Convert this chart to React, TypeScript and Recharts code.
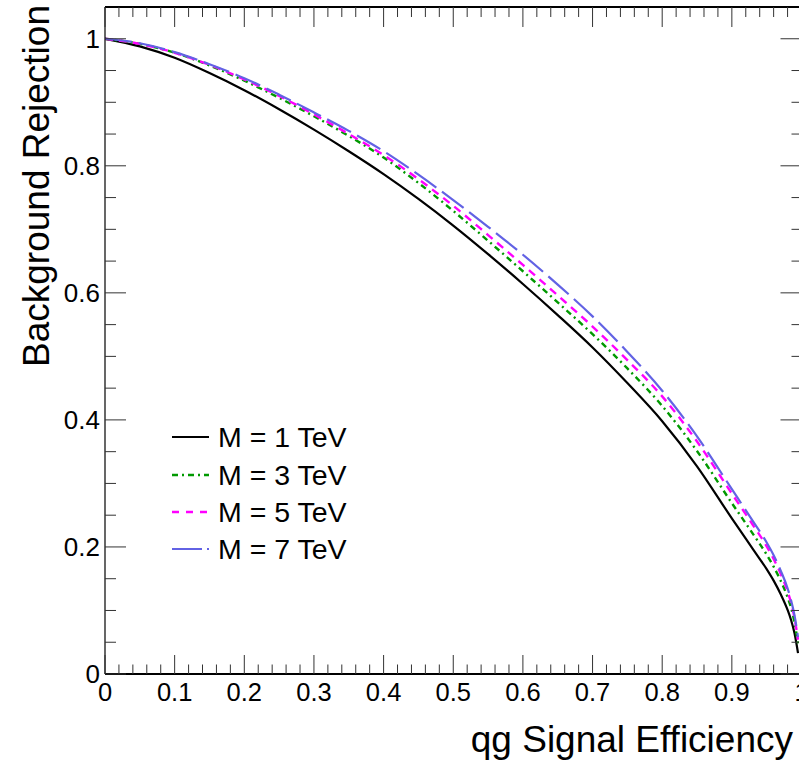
import React from "react";
import { LineChart, Line, XAxis, YAxis, Customized } from "recharts";

const effX = [0, 0.05, 0.1, 0.15, 0.2, 0.25, 0.3, 0.35, 0.4, 0.45, 0.5, 0.55, 0.6, 0.65, 0.7, 0.75, 0.8, 0.85, 0.9, 0.93, 0.95, 0.96, 0.97, 0.98, 0.985, 0.99, 0.995];
const rejM1 = [1.0, 0.988, 0.970, 0.946, 0.919, 0.889, 0.857, 0.823, 0.787, 0.748, 0.706, 0.661, 0.614, 0.565, 0.514, 0.458, 0.398, 0.327, 0.245, 0.197, 0.165, 0.147, 0.126, 0.101, 0.085, 0.064, 0.033];
const rejM3 = [1.0, 0.992, 0.978, 0.958, 0.934, 0.907, 0.878, 0.847, 0.813, 0.773, 0.729, 0.682, 0.634, 0.585, 0.535, 0.481, 0.422, 0.351, 0.269, 0.221, 0.188, 0.169, 0.147, 0.121, 0.104, 0.081, 0.048];
const rejM5 = [1.0, 0.992, 0.978, 0.959, 0.936, 0.910, 0.881, 0.850, 0.817, 0.779, 0.737, 0.691, 0.644, 0.596, 0.547, 0.494, 0.437, 0.366, 0.284, 0.235, 0.201, 0.181, 0.158, 0.130, 0.112, 0.088, 0.054];
const rejM7 = [1.0, 0.993, 0.979, 0.960, 0.938, 0.912, 0.884, 0.855, 0.823, 0.786, 0.746, 0.704, 0.660, 0.613, 0.563, 0.507, 0.446, 0.374, 0.291, 0.241, 0.207, 0.187, 0.163, 0.135, 0.116, 0.092, 0.058];

const seriesNames = ["M = 1 TeV", "M = 3 TeV", "M = 5 TeV", "M = 7 TeV"];
const seriesKeys = ["m1", "m3", "m5", "m7"];
const seriesColors = ["#000000", "#009900", "#ff00ff", "#6262e4"];
const seriesDash = ["", "6 4 2 4", "8 6", "27 7"];
const legendDash = ["", "6 4 2 4", "7 7", "30 5"];
const seriesWidth = [2.2, 2.4, 2.4, 2.2];

const xMajorTicks = [0, 0.1, 0.2, 0.3, 0.4, 0.5, 0.6, 0.7, 0.8, 0.9, 1];
const yMajorTicks = [0, 0.2, 0.4, 0.6, 0.8, 1];
const xTickLabels = ["0", "0.1", "0.2", "0.3", "0.4", "0.5", "0.6", "0.7", "0.8", "0.9", "1"];
const yTickLabels = ["0", "0.2", "0.4", "0.6", "0.8", "1"];

const xAllTicks: number[] = [];
for (let k = 0; k <= 50; k++) xAllTicks.push(Math.round(k * 2) / 100);
const yAllTicks: number[] = [];
for (let k = 0; k <= 20; k++) yAllTicks.push(Math.round(k * 5) / 100);

const data = effX.map((x, i) => ({ x, m1: rejM1[i], m3: rejM3[i], m5: rejM5[i], m7: rejM7[i] }));

const FONT = "'Liberation Sans', Arial, Helvetica, sans-serif";
const TICK_COLOR = "#333";

function xMajorIndex(v: number) {
  return xMajorTicks.findIndex((t) => Math.abs(t - v) < 1e-6);
}
function yMajorIndex(v: number) {
  return yMajorTicks.findIndex((t) => Math.abs(t - v) < 1e-6);
}

const BottomTick = (props: any) => {
  const { x, y, payload } = props;
  const idx = xMajorIndex(payload.value);
  const len = idx >= 0 ? 19 : 9.5;
  return (
    <g>
      <line x1={x} y1={y} x2={x} y2={y - len} stroke={TICK_COLOR} strokeWidth={1} />
      {idx >= 0 && (
        <text x={x} y={y + 27} textAnchor="middle" fontSize={25.5} fontFamily={FONT} fill="#000">
          {xTickLabels[idx]}
        </text>
      )}
    </g>
  );
};

const TopTick = (props: any) => {
  const { x, y, payload } = props;
  const idx = xMajorIndex(payload.value);
  const len = idx >= 0 ? 20 : 10;
  return <line x1={x} y1={y} x2={x} y2={y + len} stroke={TICK_COLOR} strokeWidth={1} />;
};

const LeftTick = (props: any) => {
  const { x, y, payload } = props;
  const idx = yMajorIndex(payload.value);
  const len = idx >= 0 ? 21 : 11;
  return (
    <g>
      <line x1={x} y1={y} x2={x + len} y2={y} stroke={TICK_COLOR} strokeWidth={1} />
      {idx >= 0 && (
        <text x={x - 5} y={y + 9} textAnchor="end" fontSize={26} fontFamily={FONT} fill="#000">
          {yTickLabels[idx]}
        </text>
      )}
    </g>
  );
};

const RightTick = (props: any) => {
  const { x, y, payload } = props;
  const idx = yMajorIndex(payload.value);
  const len = idx >= 0 ? 21 : 10;
  return <line x1={x} y1={y} x2={x - len} y2={y} stroke={TICK_COLOR} strokeWidth={1} />;
};

const LegendBox = () => {
  const lx1 = 172;
  const lx2 = 209;
  const rows = [437, 475, 512, 549];
  return (
    <g>
      {seriesNames.map((name, i) => (
        <g key={name}>
          <line
            x1={lx1}
            y1={rows[i]}
            x2={lx2}
            y2={rows[i]}
            stroke={seriesColors[i]}
            strokeWidth={seriesWidth[i]}
            strokeDasharray={legendDash[i] || undefined}
          />
          <text x={218} y={rows[i] + 10} fontSize={28.5} fontFamily={FONT} fill="#000">
            {name}
          </text>
        </g>
      ))}
    </g>
  );
};

export default function App() {
  return (
    <div style={{ position: "absolute", left: 0, top: 0, width: 799, height: 764, overflow: "hidden", background: "#fff" }}>
      <LineChart width={820} height={764} data={data} margin={{ top: 0, right: 0, bottom: 0, left: 0 }}>
        <XAxis
          xAxisId="b"
          dataKey="x"
          type="number"
          domain={[0, 1]}
          allowDataOverflow
          ticks={xAllTicks}
          interval={0}
          height={90}
          tickSize={0}
          tickMargin={0}
          tickLine={false}
          tick={BottomTick}
          axisLine={{ stroke: "#000", strokeWidth: 2 }}
        />
        <XAxis
          xAxisId="t"
          orientation="top"
          dataKey="x"
          type="number"
          domain={[0, 1]}
          allowDataOverflow
          ticks={xAllTicks}
          interval={0}
          height={7}
          tickSize={0}
          tickMargin={0}
          tickLine={false}
          tick={TopTick}
          axisLine={{ stroke: "#000", strokeWidth: 2 }}
        />
        <YAxis
          yAxisId="l"
          type="number"
          domain={[0, 1.05]}
          allowDataOverflow
          ticks={yAllTicks}
          interval={0}
          width={105}
          tickSize={0}
          tickMargin={0}
          tickLine={false}
          tick={LeftTick}
          axisLine={{ stroke: "#000", strokeWidth: 1.2 }}
        />
        <YAxis
          yAxisId="r"
          orientation="right"
          type="number"
          domain={[0, 1.05]}
          allowDataOverflow
          ticks={yAllTicks}
          interval={0}
          width={18.5}
          tickSize={0}
          tickMargin={0}
          tickLine={false}
          tick={RightTick}
          axisLine={{ stroke: "#000", strokeWidth: 1.5 }}
        />
        {seriesKeys.map((k, i) => (
          <Line
            key={k}
            xAxisId="b"
            yAxisId="l"
            dataKey={k}
            name={seriesNames[i]}
            type="monotone"
            stroke={seriesColors[i]}
            strokeWidth={seriesWidth[i]}
            strokeDasharray={seriesDash[i] || undefined}
            dot={false}
            activeDot={false}
            isAnimationActive={false}
          />
        ))}
        <Customized component={LegendBox} />
        <text x={793} y={752} textAnchor="end" fontSize={37} fontFamily={FONT} fill="#000">
          qg Signal Efficiency
        </text>
        <text
          x={48.5}
          y={5}
          transform="rotate(-90, 48.5, 5)"
          textAnchor="end"
          fontSize={37}
          fontFamily={FONT}
          fill="#000"
        >
          Background Rejection
        </text>
      </LineChart>
    </div>
  );
}
